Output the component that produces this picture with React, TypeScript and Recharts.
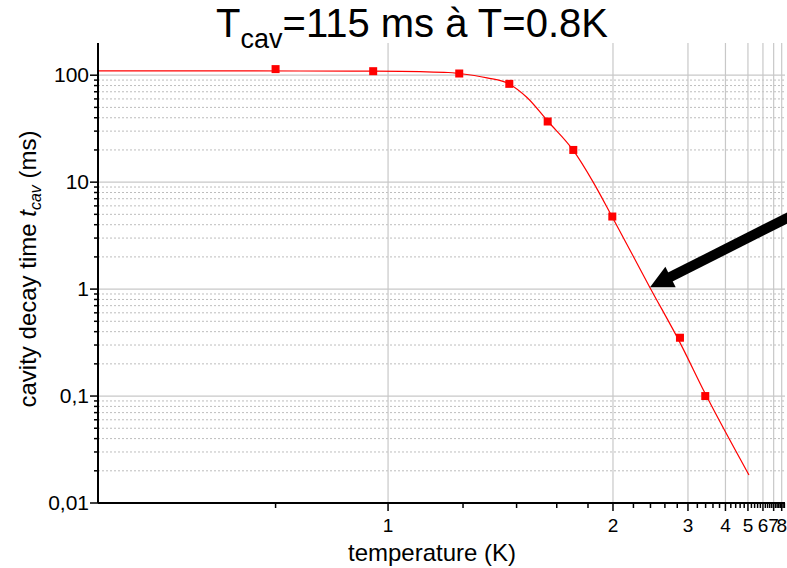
import React from 'react';
import { ComposedChart, Line, Scatter, XAxis, YAxis, ReferenceLine } from 'recharts';

// Measured points (temperature in K, cavity decay time in ms)
const measuredT = [0.8, 0.968, 1.188, 1.369, 1.55, 1.7, 1.994, 2.848, 3.391];
const measuredTau = [114, 109, 103.7, 83.0, 36.9, 20.0, 4.77, 0.351, 0.1];

// Fit curve
const fitT = [0.608, 0.705, 0.836, 0.968, 1.077, 1.154, 1.187, 1.282, 1.368, 1.447, 1.552, 1.698, 1.837, 1.991, 2.394, 2.848, 3.383, 5.056];
const fitTau = [109.7, 109.7, 109.5, 109.0, 107.8, 106.0, 103.7, 94.4, 82.9, 61.9, 36.9, 20.0, 10.06, 4.78, 1.03, 0.316, 0.1067, 0.0183];

// Axis ticks
const xMajorTicks = [1, 2, 3, 4, 5, 6, 7, 8];
const xTickLabels = ['1', '2', '3', '4', '5', '6', '7', '8'];
const xMinorTicks = [0.8, 1.2, 1.4, 1.6, 1.8, 2.2, 2.4, 2.6, 2.8, 3.2, 3.4, 3.6, 3.8, 4.2, 4.4, 4.6, 4.8, 5.2, 5.4, 5.6, 5.8, 6.2, 6.4, 6.6, 6.8, 7.2, 7.4, 7.6, 7.8, 8.2, 8.4];
const yMajorTicks = [0.01, 0.1, 1, 10, 100];
const yTickLabels = ['0,01', '0,1', '1', '10', '100'];
const yMinorTicks = [
  0.02, 0.03, 0.04, 0.05, 0.06, 0.07, 0.08, 0.09,
  0.2, 0.3, 0.4, 0.5, 0.6, 0.7, 0.8, 0.9,
  2, 3, 4, 5, 6, 7, 8, 9,
  20, 30, 40, 50, 60, 70, 80, 90,
];
const tRange = [0.608, 8.5];
const tauRange = [0.01, 200];

// Annotation arrow (data coordinates)
const arrowTail = { T: 13.6, tau: 5.6 };
const arrowTip = { T: 2.394, tau: 1.04 };

const FONT = '"Liberation Sans", Arial, sans-serif';
const inv = (T: number) => -1 / T;

const measuredData = measuredT.map((T, i) => ({ x: inv(T), y: measuredTau[i] }));
const fitData = fitT.map((T, i) => ({ x: inv(T), y: fitTau[i] }));
const xTicks = [...xMinorTicks, ...xMajorTicks].map(inv).sort((a, b) => a - b);
const yTicks = [...yMinorTicks, ...yMajorTicks].sort((a, b) => a - b);

const XTick = (props: any) => {
  const { x, y, payload } = props;
  const T = -1 / payload.value;
  const idx = xMajorTicks.findIndex((m) => Math.abs(m - T) < 1e-6);
  const major = idx >= 0;
  return (
    <g>
      <line x1={x} x2={x} y1={y} y2={y + (major ? 8 : 5)} stroke="#000" strokeWidth={1.5} />
      {major && (
        <text x={x} y={y + 29} textAnchor="middle" fontSize={19} fontFamily={FONT} fill="#000">
          {xTickLabels[idx]}
        </text>
      )}
    </g>
  );
};

const YTick = (props: any) => {
  const { x, y, payload } = props;
  const v = payload.value;
  const idx = yMajorTicks.findIndex((m) => Math.abs(m - v) / m < 1e-6);
  const major = idx >= 0;
  return (
    <g>
      <line x1={x - (major ? 8 : 4)} x2={x} y1={y} y2={y} stroke="#000" strokeWidth={1.5} />
      {major && (
        <text x={x - 9} y={y} dy="0.34em" textAnchor="end" fontSize={21} fontFamily={FONT} fill="#000">
          {yTickLabels[idx]}
        </text>
      )}
    </g>
  );
};

const Square = (p: any) => <rect x={p.cx - 4} y={p.cy - 4} width={8} height={8} fill="#ff0000" />;

const Arrow = (p: any) => {
  const { x1, y1, x2, y2 } = p;
  const dx = x2 - x1;
  const dy = y2 - y1;
  const len = Math.sqrt(dx * dx + dy * dy);
  const ux = dx / len;
  const uy = dy / len;
  const headLen = 23;
  const halfW = 11.5;
  const bx = x2 - ux * headLen;
  const by = y2 - uy * headLen;
  const px = -uy;
  const py = ux;
  return (
    <g>
      <line x1={x1} y1={y1} x2={bx + ux * 2} y2={by + uy * 2} stroke="#000" strokeWidth={10} />
      <polygon
        points={`${x2},${y2} ${bx + px * halfW},${by + py * halfW} ${bx - px * halfW},${by - py * halfW}`}
        fill="#000"
      />
    </g>
  );
};

export default function App() {
  return (
    <div style={{ position: 'relative', width: 787, height: 568, background: '#fff' }}>
      <style>{'body{margin:0;}'}</style>
      <ComposedChart width={787} height={568} margin={{ top: 43, right: 2, bottom: 35, left: 0 }}>
        <XAxis
          type="number"
          dataKey="x"
          domain={[inv(tRange[0]), inv(tRange[1])]}
          allowDataOverflow
          ticks={xTicks}
          interval={0}
          tick={<XTick />}
          tickLine={false}
          tickSize={0}
          tickMargin={0}
          height={30}
          axisLine={{ stroke: '#000', strokeWidth: 2 }}
        />
        <YAxis
          type="number"
          dataKey="y"
          scale="log"
          domain={tauRange}
          allowDataOverflow
          ticks={yTicks}
          interval={0}
          tick={<YTick />}
          tickLine={false}
          tickSize={0}
          tickMargin={0}
          width={98}
          axisLine={{ stroke: '#000', strokeWidth: 2 }}
        />
        {yMinorTicks.map((v) => (
          <ReferenceLine key={'ym' + v} y={v} stroke="#bdbdbd" strokeWidth={1} strokeDasharray="2 2" />
        ))}
        {yMajorTicks.slice(1).map((v) => (
          <ReferenceLine key={'yM' + v} y={v} stroke="#c8c8c8" strokeWidth={1.2} />
        ))}
        {xMajorTicks.map((T) => (
          <ReferenceLine key={'xM' + T} x={inv(T)} stroke="#c8c8c8" strokeWidth={1.2} />
        ))}
        <Line
          data={fitData}
          dataKey="y"
          type="monotone"
          stroke="#ff0000"
          strokeWidth={1.2}
          dot={false}
          activeDot={false}
          isAnimationActive={false}
        />
        <Scatter data={measuredData} dataKey="y" fill="#ff0000" shape={Square} isAnimationActive={false} />
        <ReferenceLine
          segment={[
            { x: inv(arrowTail.T), y: arrowTail.tau },
            { x: inv(arrowTip.T), y: arrowTip.tau },
          ]}
          ifOverflow="visible"
          stroke="#000"
          shape={Arrow}
        />
      </ComposedChart>
      <svg
        width={787}
        height={568}
        style={{ position: 'absolute', left: 0, top: 0, pointerEvents: 'none' }}
      >
        <text x={412} y={37} textAnchor="middle" fontSize={40} fontFamily={FONT} fill="#000">
          T<tspan fontSize={27} dy={11}>cav</tspan>
          <tspan dy={-11}>=115 ms à T=0.8K</tspan>
        </text>
        <text x={432} y={561} textAnchor="middle" fontSize={24} fontFamily={FONT} fill="#000">
          temperature (K)
        </text>
        <text
          transform="translate(36,269) rotate(-90)"
          textAnchor="middle"
          fontSize={24}
          fontFamily={FONT}
          fill="#000"
        >
          cavity decay time <tspan fontStyle="italic">t</tspan>
          <tspan fontStyle="italic" fontSize={16} dy={5}>cav</tspan>
          <tspan dy={-5}> (ms)</tspan>
        </text>
      </svg>
    </div>
  );
}
